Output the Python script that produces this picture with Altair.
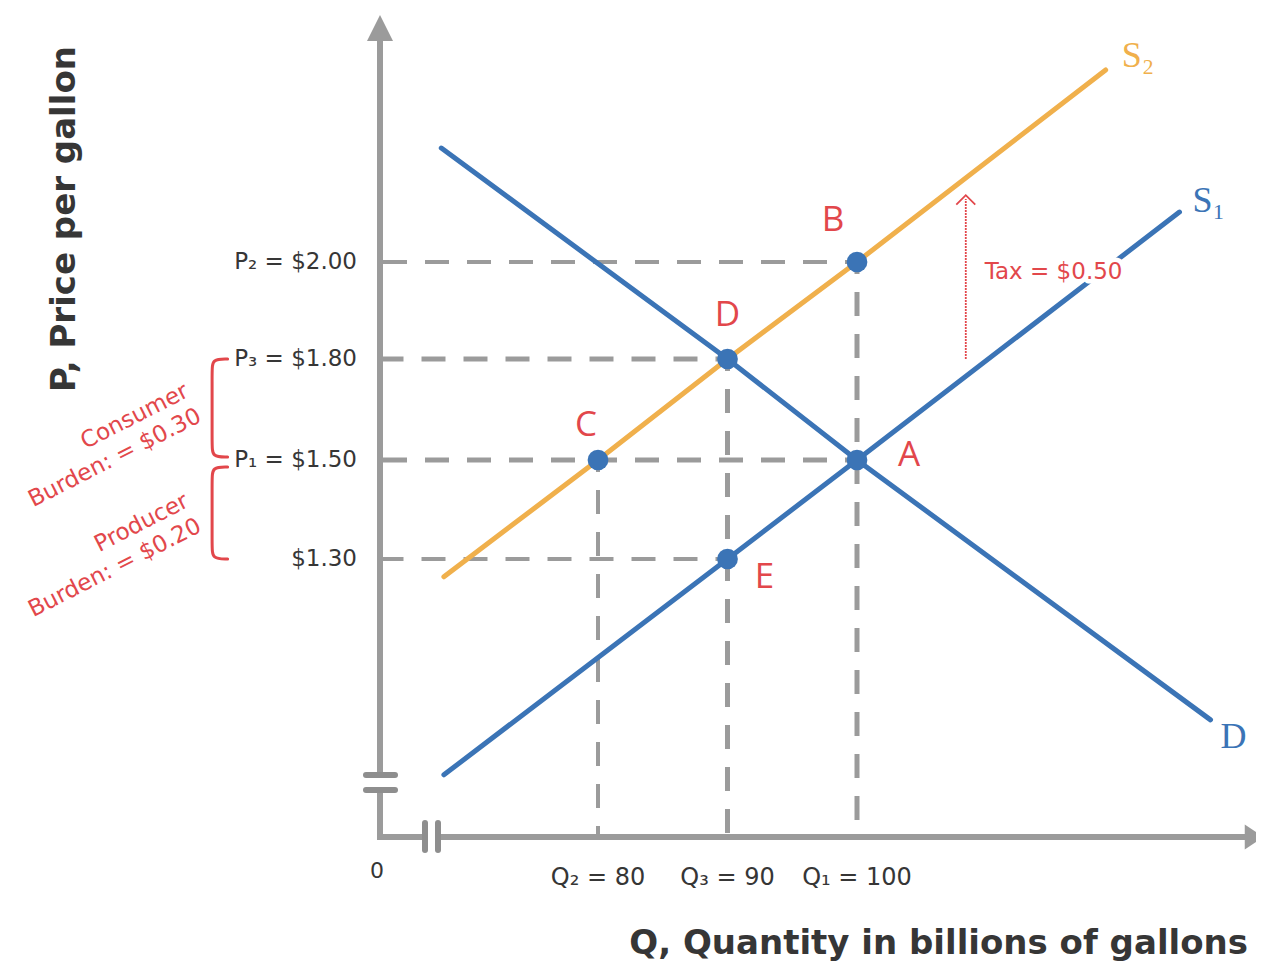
import altair as alt
import pandas as pd

# ------------------------------------------------------------------ data
# curves (quantity in billions of gallons, price in $ per gallon)
demand_q = [67.9, 90, 100, 127.3]
demand_p = [2.235, 1.80, 1.50, 0.975]
s1_q = [68.1, 90, 100, 124.9]
s1_p = [0.864, 1.30, 1.50, 2.103]
s2_q = [68.1, 80, 90, 100, 119.2]
s2_p = [1.264, 1.50, 1.80, 2.00, 2.396]

# labelled points
point_names = ["A", "B", "C", "D", "E"]
point_q = [100, 100, 80, 90, 90]
point_p = [1.50, 2.00, 1.50, 1.80, 1.30]

# price levels on the vertical axis and the quantity each guide runs to
price_levels = [2.00, 1.80, 1.50, 1.30]
price_labels = ["P₂ = $2.00", "P₃ = $1.80", "P₁ = $1.50", "$1.30"]
price_guide_q = [100, 90, 100, 90]
price_guide_bold = [False, True, True, False]

# quantity levels on the horizontal axis and the price each guide runs from
qty_levels = [80, 90, 100]
qty_labels = ["Q₂ = 80", "Q₃ = 90", "Q₁ = 100"]
qty_guide_p = [1.50, 1.80, 2.00]
qty_guide_bold = [False, True, True]

tax = 0.50
consumer_burden = 0.30
producer_burden = 0.20

# ------------------------------------------------------------------ style
BLUE = "#3b74b6"
ORANGE = "#f0b04c"
RED = "#e2474b"
GRAY = "#9b9b9b"
DARK = "#363636"
SANS = "DejaVu Sans"
LETTER = "Open Sans"
SERIF = "Liberation Serif"

xscale = alt.Scale(domain=[min(qty_levels), max(qty_levels)], range=[590, 849],
                   nice=False, zero=False)
ylev = sorted(price_levels)
yscale = alt.Scale(domain=ylev, range=[551, 452, 351, 254], nice=False, zero=False)


def X(f="q"):
    return alt.X(f"{f}:Q", scale=xscale, axis=None)


def Y(f="p"):
    return alt.Y(f"{f}:Q", scale=yscale, axis=None)


one = pd.DataFrame({"k": [0]})
base_one = alt.Chart(one)

layers = []

# ------------------------------------------------------------------ axes (decoration)
ax = dict(color=GRAY, strokeWidth=6, strokeCap="square")
layers += [
    base_one.mark_rule(**ax).encode(x=alt.value(372), y=alt.value(36), y2=alt.value(767)),
    base_one.mark_rule(**ax).encode(x=alt.value(372), y=alt.value(782), y2=alt.value(829)),
    base_one.mark_rule(**ax).encode(x=alt.value(372), x2=alt.value(417), y=alt.value(829)),
    base_one.mark_rule(**ax).encode(x=alt.value(430), x2=alt.value(1240), y=alt.value(829)),
]
br = dict(color="#8e8e8e", strokeWidth=6, strokeCap="round")
layers += [
    base_one.mark_rule(**br).encode(x=alt.value(358), x2=alt.value(387), y=alt.value(767)),
    base_one.mark_rule(**br).encode(x=alt.value(358), x2=alt.value(387), y=alt.value(782)),
    base_one.mark_rule(**br).encode(x=alt.value(417), y=alt.value(815), y2=alt.value(842)),
    base_one.mark_rule(**br).encode(x=alt.value(430), y=alt.value(815), y2=alt.value(842)),
]
layers += [
    base_one.mark_point(shape="M0,-1L1,1L-1,1Z", size=676, filled=True, color=GRAY, opacity=1)
    .encode(x=alt.value(372), y=alt.value(20)),
    base_one.mark_point(shape="M1,0L-0.5,-1L-0.5,1Z", size=625, filled=True, color=GRAY, opacity=1)
    .encode(x=alt.value(1243), y=alt.value(829)),
]

# ------------------------------------------------------------------ guides
pg = pd.DataFrame({"p": price_levels, "q": price_guide_q, "lab": price_labels,
                   "bold": price_guide_bold})
qg = pd.DataFrame({"q": qty_levels, "p": qty_guide_p, "lab": qty_labels,
                   "bold": qty_guide_bold})

for bold in (False, True):
    w = 5 if bold else 4
    layers.append(
        alt.Chart(pg[pg.bold == bold]).mark_rule(color=GRAY, strokeWidth=w,
                                                  strokeDash=[24, 18], strokeDashOffset=12)
        .encode(x=X("q"), x2=alt.value(372), y=Y("p"))
    )
    layers.append(
        alt.Chart(qg[qg.bold == bold]).mark_rule(color=GRAY, strokeWidth=w,
                                                  strokeDash=[24, 18], strokeDashOffset=12)
        .encode(x=X("q"), y=Y("p"), y2=alt.value(829))
    )

# axis labels
layers.append(
    alt.Chart(pg).mark_text(align="right", baseline="middle", font=SANS, fontSize=23, color=DARK)
    .encode(x=alt.value(349), y=Y("p"), text="lab:N")
)
layers.append(
    alt.Chart(qg).mark_text(align="center", baseline="middle", font=SANS, fontSize=24, color=DARK)
    .encode(x=X("q"), y=alt.value(870), text="lab:N")
)
layers.append(
    base_one.mark_text(align="center", baseline="middle", font=SANS, fontSize=22, color=DARK)
    .encode(x=alt.value(369), y=alt.value(863), text=alt.value("0"))
)

# ------------------------------------------------------------------ curves
curves = [
    ("S2", s2_q, s2_p, ORANGE),
    ("D", demand_q, demand_p, BLUE),
    ("S1", s1_q, s1_p, BLUE),
]
for name, qs, ps, col in curves:
    df = pd.DataFrame({"q": qs, "p": ps, "o": range(len(qs))})
    layers.append(
        alt.Chart(df).mark_line(color=col, strokeWidth=5, strokeCap="round")
        .encode(x=X("q"), y=Y("p"), order="o:Q")
    )

curve_labels = [("S₂", s2_q[-1], s2_p[-1], ORANGE, 16, -3),
                ("S₁", s1_q[-1], s1_p[-1], BLUE, 13, 0),
                ("D", demand_q[-1], demand_p[-1], BLUE, 10, 28)]
for txt, q, p, col, dx, dy in curve_labels:
    layers.append(
        alt.Chart(pd.DataFrame({"q": [q], "p": [p], "t": [txt]}))
        .mark_text(align="left", baseline="alphabetic", font=SERIF, fontSize=36,
                   color=col, dx=dx, dy=dy)
        .encode(x=X("q"), y=Y("p"), text="t:N")
    )

# ------------------------------------------------------------------ points
pts = pd.DataFrame({"name": point_names, "q": point_q, "p": point_p})
layers.append(
    alt.Chart(pts).mark_circle(size=430, color=BLUE, opacity=1)
    .encode(x=X("q"), y=Y("p"))
)
letter_offsets = {"A": (52, -5), "B": (-24, -42), "C": (-12, -35),
                  "D": (0, -44), "E": (37, 18)}
for nm, (dx, dy) in letter_offsets.items():
    layers.append(
        alt.Chart(pts[pts.name == nm])
        .mark_text(align="center", baseline="middle", font=LETTER, fontSize=35,
                   color=RED, dx=dx, dy=dy)
        .encode(x=X("q"), y=Y("p"), text="name:N")
    )

# ------------------------------------------------------------------ tax arrow
TAX_Q = 108.4
arrow = pd.DataFrame({"q": [TAX_Q], "p": [1.80], "p2": [2.13]})
layers.append(
    alt.Chart(arrow).mark_rule(color=RED, strokeWidth=1.8, strokeDash=[2, 1])
    .encode(x=X("q"), y=Y("p"), y2="p2:Q")
)
layers.append(
    alt.Chart(arrow).mark_point(shape="M-1,0.6L0,-0.4L1,0.6", size=360, filled=False,
                                color=RED, strokeWidth=1.8, opacity=1)
    .encode(x=X("q"), y=Y("p2"))
)
tax_df = pd.DataFrame({"q": [TAX_Q], "p": [1.98], "t": [f"Tax = ${tax:.2f}"]})
layers.append(
    alt.Chart(tax_df).mark_text(align="left", baseline="middle", font=SANS, fontSize=23,
                                color="white", stroke="white", strokeWidth=9,
                                strokeJoin="round", dx=19)
    .encode(x=X("q"), y=Y("p"), text="t:N")
)
layers.append(
    alt.Chart(tax_df).mark_text(align="left", baseline="middle", font=SANS, fontSize=23,
                                color=RED, dx=19)
    .encode(x=X("q"), y=Y("p"), text="t:N")
)

# ------------------------------------------------------------------ burden braces
TIP_Q, SPINE_Q = 51.4, 50.2
braces = [
    ("c", price_levels[1], 1.509, 0.035),
    ("pr", 1.486, price_levels[3], 0.025),
]
for key, top, bot, r in braces:
    bdf = pd.DataFrame({
        "q": [TIP_Q, SPINE_Q, SPINE_Q, SPINE_Q, SPINE_Q, TIP_Q],
        "p": [top, top, top - r, bot + r, bot, bot],
        "o": list(range(6)),
    })
    layers.append(
        alt.Chart(bdf).mark_line(color=RED, strokeWidth=3, interpolate="basis",
                                 strokeCap="round")
        .encode(x=X("q"), y=Y("p"), order="o:Q")
    )

burden_df = pd.DataFrame({
    "t": [["Consumer", f"Burden: = ${consumer_burden:.2f}"],
          ["Producer", f"Burden: = ${producer_burden:.2f}"]],
    "y": [388, 498],
})
for i in range(2):
    layers.append(
        alt.Chart(burden_df.iloc[[i]]).mark_text(
            align="right", baseline="alphabetic", font=SANS, fontSize=23, color=RED,
            angle=333, lineHeight=28)
        .encode(x=alt.value(182), y=alt.value(int(burden_df.y[i])), text="t")
    )

# ------------------------------------------------------------------ titles
layers.append(
    base_one.mark_text(align="center", baseline="middle", font=SANS, fontSize=34,
                       fontWeight="bold", color=DARK, angle=270)
    .encode(x=alt.value(57), y=alt.value(211), text=alt.value("P, Price per gallon"))
)
layers.append(
    base_one.mark_text(align="right", baseline="middle", font=SANS, fontSize=34,
                       fontWeight="bold", color=DARK)
    .encode(x=alt.value(1240), y=alt.value(936),
            text=alt.value("Q, Quantity in billions of gallons"))
)

chart = alt.layer(*layers).properties(
    width=1248, height=954, padding=0, background="white",
    autosize=alt.AutoSizeParams(type="none"),
).configure_view(stroke=None)

chart.save("out.html", embed_options={"renderer": "svg", "actions": False})
